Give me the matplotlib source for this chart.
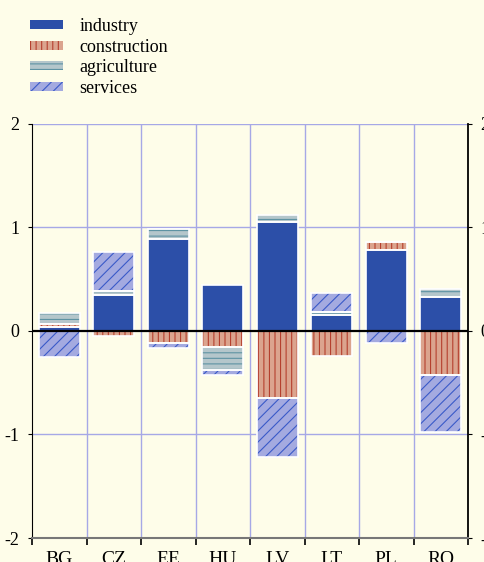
import numpy as np
import matplotlib.pyplot as plt
from matplotlib.patches import Patch

plt.rcParams['font.family'] = ['Liberation Serif', 'DejaVu Serif']
plt.rcParams['hatch.linewidth'] = 0.8

countries = ["BG", "CZ", "EE", "HU", "LV", "LT", "PL", "RO"]
industry = [0.04, 0.35, 0.89, 0.44, 1.05, 0.15, 0.78, 0.33]
construction = [0.03, -0.05, -0.12, -0.15, -0.65, -0.24, 0.08, -0.43]
agriculture = [0.10, 0.04, 0.10, -0.23, 0.07, 0.03, 0.0, 0.08]
services = [-0.25, 0.37, -0.04, -0.05, -0.57, 0.19, -0.12, -0.55]

bg = "#fefde9"
grid_c = "#a6a8e6"
series = [
    ("industry", industry, "#2c4fa8", "#2c4fa8", ""),
    ("construction", construction, "#dba48e", "#b5402e", "|||"),
    ("agriculture", agriculture, "#b4c6cb", "#5e93a3", "---"),
    ("services", services, "#a4aae0", "#3a5ac8", "///"),
]

fig = plt.figure(figsize=(4.85, 5.62), dpi=100, facecolor=bg)
ax = fig.add_axes([0.066, 0.0427, 0.899, 0.7367], facecolor=bg)

x = np.arange(len(countries))
pos = np.zeros(len(countries))
neg = np.zeros(len(countries))
handles = []
for name, vals, fc, hc, hatch in series:
    vals = np.array(vals)
    bottom = np.where(vals >= 0, pos, neg)
    # hatch colour comes from edgecolor, so draw white outline separately
    ax.bar(x, vals, 0.76, bottom=bottom, color=fc, edgecolor=hc,
           hatch=hatch, linewidth=0, zorder=3)
    ax.bar(x, vals, 0.76, bottom=bottom, fill=False, edgecolor="white",
           linewidth=1.2, zorder=4)
    pos = pos + np.where(vals >= 0, vals, 0)
    neg = neg + np.where(vals < 0, vals, 0)
    handles.append(Patch(facecolor=fc, edgecolor=hc, hatch=hatch,
                         linewidth=0, label=name))

ax.set_xlim(-0.5, len(countries) - 0.5)
ax.set_ylim(-2, 2)
ax.set_yticks([-2, -1, 0, 1, 2])
ax.set_yticklabels(["-2", "-1", "0", "1", "2"])
ax.set_xticks(x)
ax.set_xticklabels(countries)
ax.set_xticks(np.arange(-0.5, len(countries)), minor=True)

for yv in [1, 2, -1]:
    ax.axhline(yv, color=grid_c, linewidth=1, zorder=1)
for xv in np.arange(0.5, len(countries) - 0.5):
    ax.axvline(xv, color=grid_c, linewidth=1, zorder=1)
ax.axhline(0, color="black", linewidth=1.6, zorder=5)

ax.spines["top"].set_visible(False)
ax.spines["left"].set_color("black")
ax.spines["right"].set_color("black")
ax.spines["right"].set_linewidth(1.3)
ax.spines["bottom"].set_color("#777777")
ax.spines["bottom"].set_linewidth(1.5)

ax.tick_params(axis="y", which="both", length=3, width=0.8, labelsize=13,
               labelright=True, right=True, pad=6)
ax.tick_params(axis="x", which="major", length=0, labelsize=14, pad=9)
ax.tick_params(axis="x", which="minor", length=5, width=1.2, color="black")

fig.legend(handles=handles, loc="upper left", bbox_to_anchor=(0.062, 0.968),
           frameon=False, fontsize=13, handlelength=1.85, handleheight=0.4,
           handletextpad=0.9, labelspacing=0.2, borderpad=0,
           borderaxespad=0)

fig.savefig("out.png", dpi=100, facecolor=bg)
